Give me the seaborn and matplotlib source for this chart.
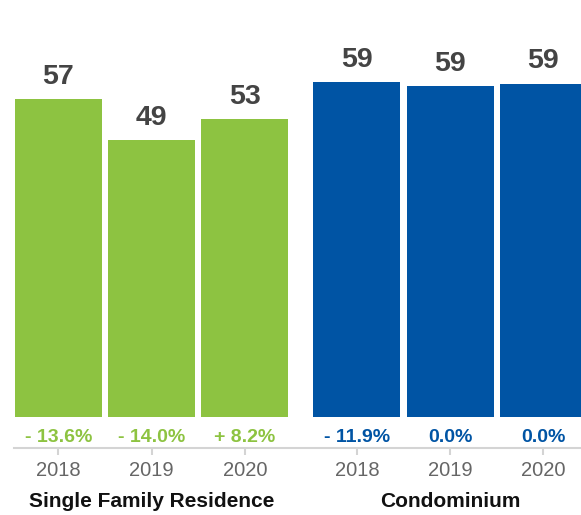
import pandas as pd
import matplotlib.pyplot as plt
import matplotlib.transforms as mtransforms
import seaborn as sns

# data
groups = ['Single Family Residence', 'Condominium']
years = ['2018', '2019', '2020']
sfr_values = [56.5, 49.3, 53.0]
condo_values = [59.6, 58.9, 59.3]
value_labels = ['57', '49', '53', '59', '59', '59']
change_labels = ['- 13.6%', '- 14.0%', '+ 8.2%', '- 11.9%', '0.0%', '0.0%']

colors = {'Single Family Residence': '#8dc341', 'Condominium': '#0054a4'}

sns.set_theme(style='white')
plt.rcParams['font.family'] = ['Liberation Sans', 'DejaVu Sans']

# positions: three bars per group, small gap between groups
group_gap = 0.2
rows = []
for gi, (grp, vals) in enumerate(zip(groups, [sfr_values, condo_values])):
    for yi, (yr, v) in enumerate(zip(years, vals)):
        rows.append({'group': grp, 'year': yr, 'value': v,
                     'pos': gi * (len(years) + group_gap) + yi})
df = pd.DataFrame(rows)

fig = plt.figure(figsize=(5.81, 5.15), dpi=100)
ax = fig.add_axes([0, 67 / 515, 1, 448 / 515])

sns.barplot(data=df, x='pos', y='value', hue='group', palette=colors,
            native_scale=True, dodge=False, width=0.933, linewidth=0,
            saturation=1, legend=False, ax=ax)

ax.set_xlim(-0.627, 5.603)
ax.set_ylim(-5.52, 74.2)

# value labels on top of bars
for (_, r), lab in zip(df.iterrows(), value_labels):
    ax.annotate(lab, (r['pos'], r['value']), xytext=(0, 11),
                textcoords='offset points', ha='center', va='baseline',
                fontsize=20.5, fontweight='bold', color='#444444')

# change labels under bars
for (_, r), lab in zip(df.iterrows(), change_labels):
    ax.text(r['pos'], -4.5, lab, ha='center', va='baseline',
            fontsize=14, fontweight='bold', color=colors[r['group']])

# axis styling
for s in ['left', 'right', 'top']:
    ax.spines[s].set_visible(False)
ax.spines['bottom'].set_color('#d4d4d4')
ax.spines['bottom'].set_linewidth(1.5)
ax.spines['bottom'].set_bounds(-0.477, 5.603)
ax.set_yticks([])
ax.set_xticks(df['pos'], labels=df['year'])
ax.tick_params(axis='x', bottom=True, length=5, width=1.5, color='#d4d4d4',
               labelsize=14.5, labelcolor='#666666', pad=4)
ax.set_xlabel('')
ax.set_ylabel('')

# group titles under the years
trans = mtransforms.blended_transform_factory(ax.transData, fig.transFigure)
for gi, grp in enumerate(groups):
    center = df.loc[df['group'] == grp, 'pos'].mean()
    ax.text(center, 8 / 515, grp, transform=trans, ha='center', va='baseline',
            fontsize=15, fontweight='bold', color='#111111')

fig.savefig('out.png', dpi=100, facecolor='white')
